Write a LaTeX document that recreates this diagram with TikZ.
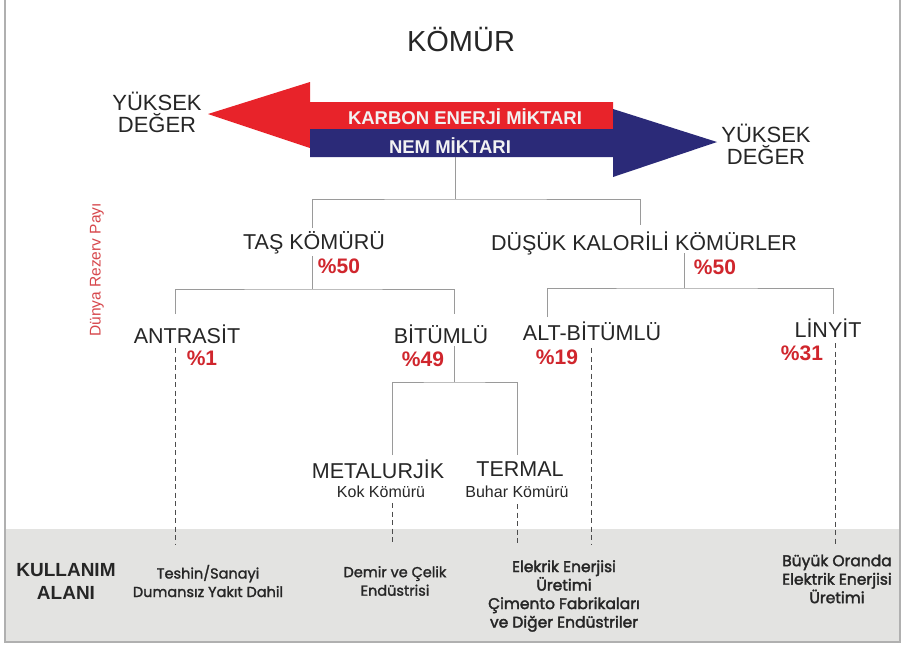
\documentclass[tikz,border=0pt]{standalone}
\usepackage{fontspec}
\setmainfont{Liberation Sans}
\newfontfamily\geo{Poppins}[FakeBold=1.5]
\newfontfamily\geob{Poppins}[FakeBold=2.2]
\definecolor{arrred}{HTML}{E8232A}
\definecolor{arrblue}{HTML}{2B2A78}
\definecolor{pctred}{HTML}{D0262D}
\definecolor{bandgray}{HTML}{E3E3E1}
\definecolor{framegray}{HTML}{B0B0B0}
\definecolor{linegray}{HTML}{9A9A9A}
\begin{document}
\begin{tikzpicture}[x=1pt,y=-1pt,
  lbl/.style={inner sep=0pt, font=\fontsize{21.5}{21.5}\selectfont, text=black!85},
  sublbl/.style={inner sep=0pt, font=\fontsize{16}{16}\selectfont, text=black!85},
  pct/.style={inner sep=0pt, font=\bfseries\fontsize{21}{21}\selectfont, text=pctred},
  side/.style={inner sep=0pt, align=center, font=\fontsize{22}{22}\selectfont, text=black!85},
  arrtxt/.style={inner sep=0pt, text=white!95!black, font=\bfseries\fontsize{18.5}{18.5}\selectfont},
  use/.style={inner sep=0pt, align=center, font=\geo\fontsize{14.5}{18.5}\selectfont, text=black!85},
  useb/.style={inner sep=0pt, align=center, font=\geob\fontsize{15.5}{18.5}\selectfont, text=black!85},
  tree/.style={draw=linegray, line width=0.9pt},
  dashline/.style={draw=black!70, line width=0.8pt, dash pattern=on 5pt off 3.5pt}
]
\useasboundingbox (0,0) rectangle (903,649);
\fill[white] (0,0) rectangle (903,649);
\fill[bandgray] (5,529) rectangle (900,642);
\draw[framegray, line width=2.5pt] (5,0) -- (5,642) -- (900,642) -- (900,0);

% title
\node[inner sep=0pt, font=\fontsize{29}{29}\selectfont, text=black!85] (title) at (461,40) {KÖMÜR};

% arrows
\fill[arrred] (208,114) -- (310,82) -- (310,102) -- (613,102) -- (613,129) -- (310,129) -- (310,148) -- cycle;
\fill[arrblue] (717,142) -- (613,177) -- (613,157) -- (310,157) -- (310,129) -- (613,129) -- (613,109) -- cycle;
\node[arrtxt] (karbon) at (465,116.5) {KARBON ENERJİ MİKTARI};
\node[arrtxt] (nem) at (450,146) {NEM MİKTARI};
\node[side] (yl) at (157,112.5) {YÜKSEK\\DEĞER};
\node[side] (yr) at (766,144.5) {YÜKSEK\\DEĞER};

\coordinate (abase) at (455,157);

% side label
\node[inner sep=0pt, rotate=90, text=pctred!85, font=\fontsize{15.5}{15.5}\selectfont] (payi) at (97,270) {Dünya Rezerv Payı};

% level 1
\node[lbl] (tas) at (314,243) {TAŞ KÖMÜRÜ};
\node[pct] (tasp) at (339,266) {\%50};
\node[lbl] (dus) at (644,243) {DÜŞÜK KALORİLİ KÖMÜRLER};
\node[pct] (dusp) at (715,267) {\%50};

% level 2
\node[lbl] (ant) at (187,334) {ANTRASİT};
\node[pct] (antp) at (202,358) {\%1};
\node[lbl] (bit) at (441,334) {BİTÜMLÜ};
\node[pct] (bitp) at (423,359) {\%49};
\node[lbl] (alt) at (592,331) {ALT-BİTÜMLÜ};
\node[pct] (altp) at (557,357) {\%19};
\node[lbl] (lin) at (828,328) {LİNYİT};
\node[pct] (linp) at (802,353) {\%31};

% level 3
\node[lbl] (met) at (378,469) {METALURJİK};
\node[sublbl] (kok) at (381,491.5) {Kok Kömürü};
\node[lbl] (ter) at (520,469) {TERMAL};
\node[sublbl] (buh) at (517,491.5) {Buhar Kömürü};

% tree connectors
\coordinate (j1) at (455,199);
\coordinate (tasin) at (312,228);
\coordinate (dusin) at (640,225);
\draw[tree] (abase) -- (j1);
\draw[tree] (tasin) |- (j1) -| (dusin);

\coordinate (tasout) at (312,256);
\coordinate (j2) at (312,289);
\coordinate (antin) at (175,314);
\coordinate (bitin) at (454,314);
\draw[tree] (tasout) -- (j2);
\draw[tree] (antin) |- (j2) -| (bitin);

\coordinate (dusout) at (684,253);
\coordinate (j3) at (684,288);
\coordinate (altin) at (547,317);
\coordinate (linin) at (833,314);
\draw[tree] (dusout) -- (j3);
\draw[tree] (altin) |- (j3) -| (linin);

\coordinate (bitout) at (454,346);
\coordinate (j4) at (454,382);
\coordinate (metin) at (392,455);
\coordinate (terin) at (517,455);
\draw[tree] (bitout) -- (j4);
\draw[tree] (metin) |- (j4) -| (terin);

% use band
\node[use] (u1) at (208,581) {Teshin/Sanayi\\Dumansız Yakıt Dahil};
\node[use] (u2) at (395,581) {Demir ve Çelik\\Endüstrisi};
\node[useb] (u3) at (564,596) {Elekrik Enerjisi\\Üretimi\\Çimento Fabrikaları\\ve Diğer Endüstriler};
\node[useb] (u4) at (837,579) {Büyük Oranda\\Elektrik Enerjisi\\Üretimi};
\node[inner sep=0pt, align=center, font=\bfseries\fontsize{19}{23}\selectfont, text=black!85] (kul) at (66,581) {KULLANIM\\ALANI};

% dashed connectors
\coordinate (s1) at (175,348);
\coordinate (s2) at (392,503);
\coordinate (s3) at (517,504);
\coordinate (s4) at (591,348);
\coordinate (s5) at (835,343);
\coordinate (d1) at (175,545);
\coordinate (d2) at (392,545);
\coordinate (d3) at (517,545);
\coordinate (d4) at (591,545);
\coordinate (d5) at (835,545);
\draw[dashline] (s1) -- (d1);
\draw[dashline] (s2) -- (d2);
\draw[dashline] (s3) -- (d3);
\draw[dashline] (s4) -- (d4);
\draw[dashline] (s5) -- (d5);
\end{tikzpicture}
\end{document}
